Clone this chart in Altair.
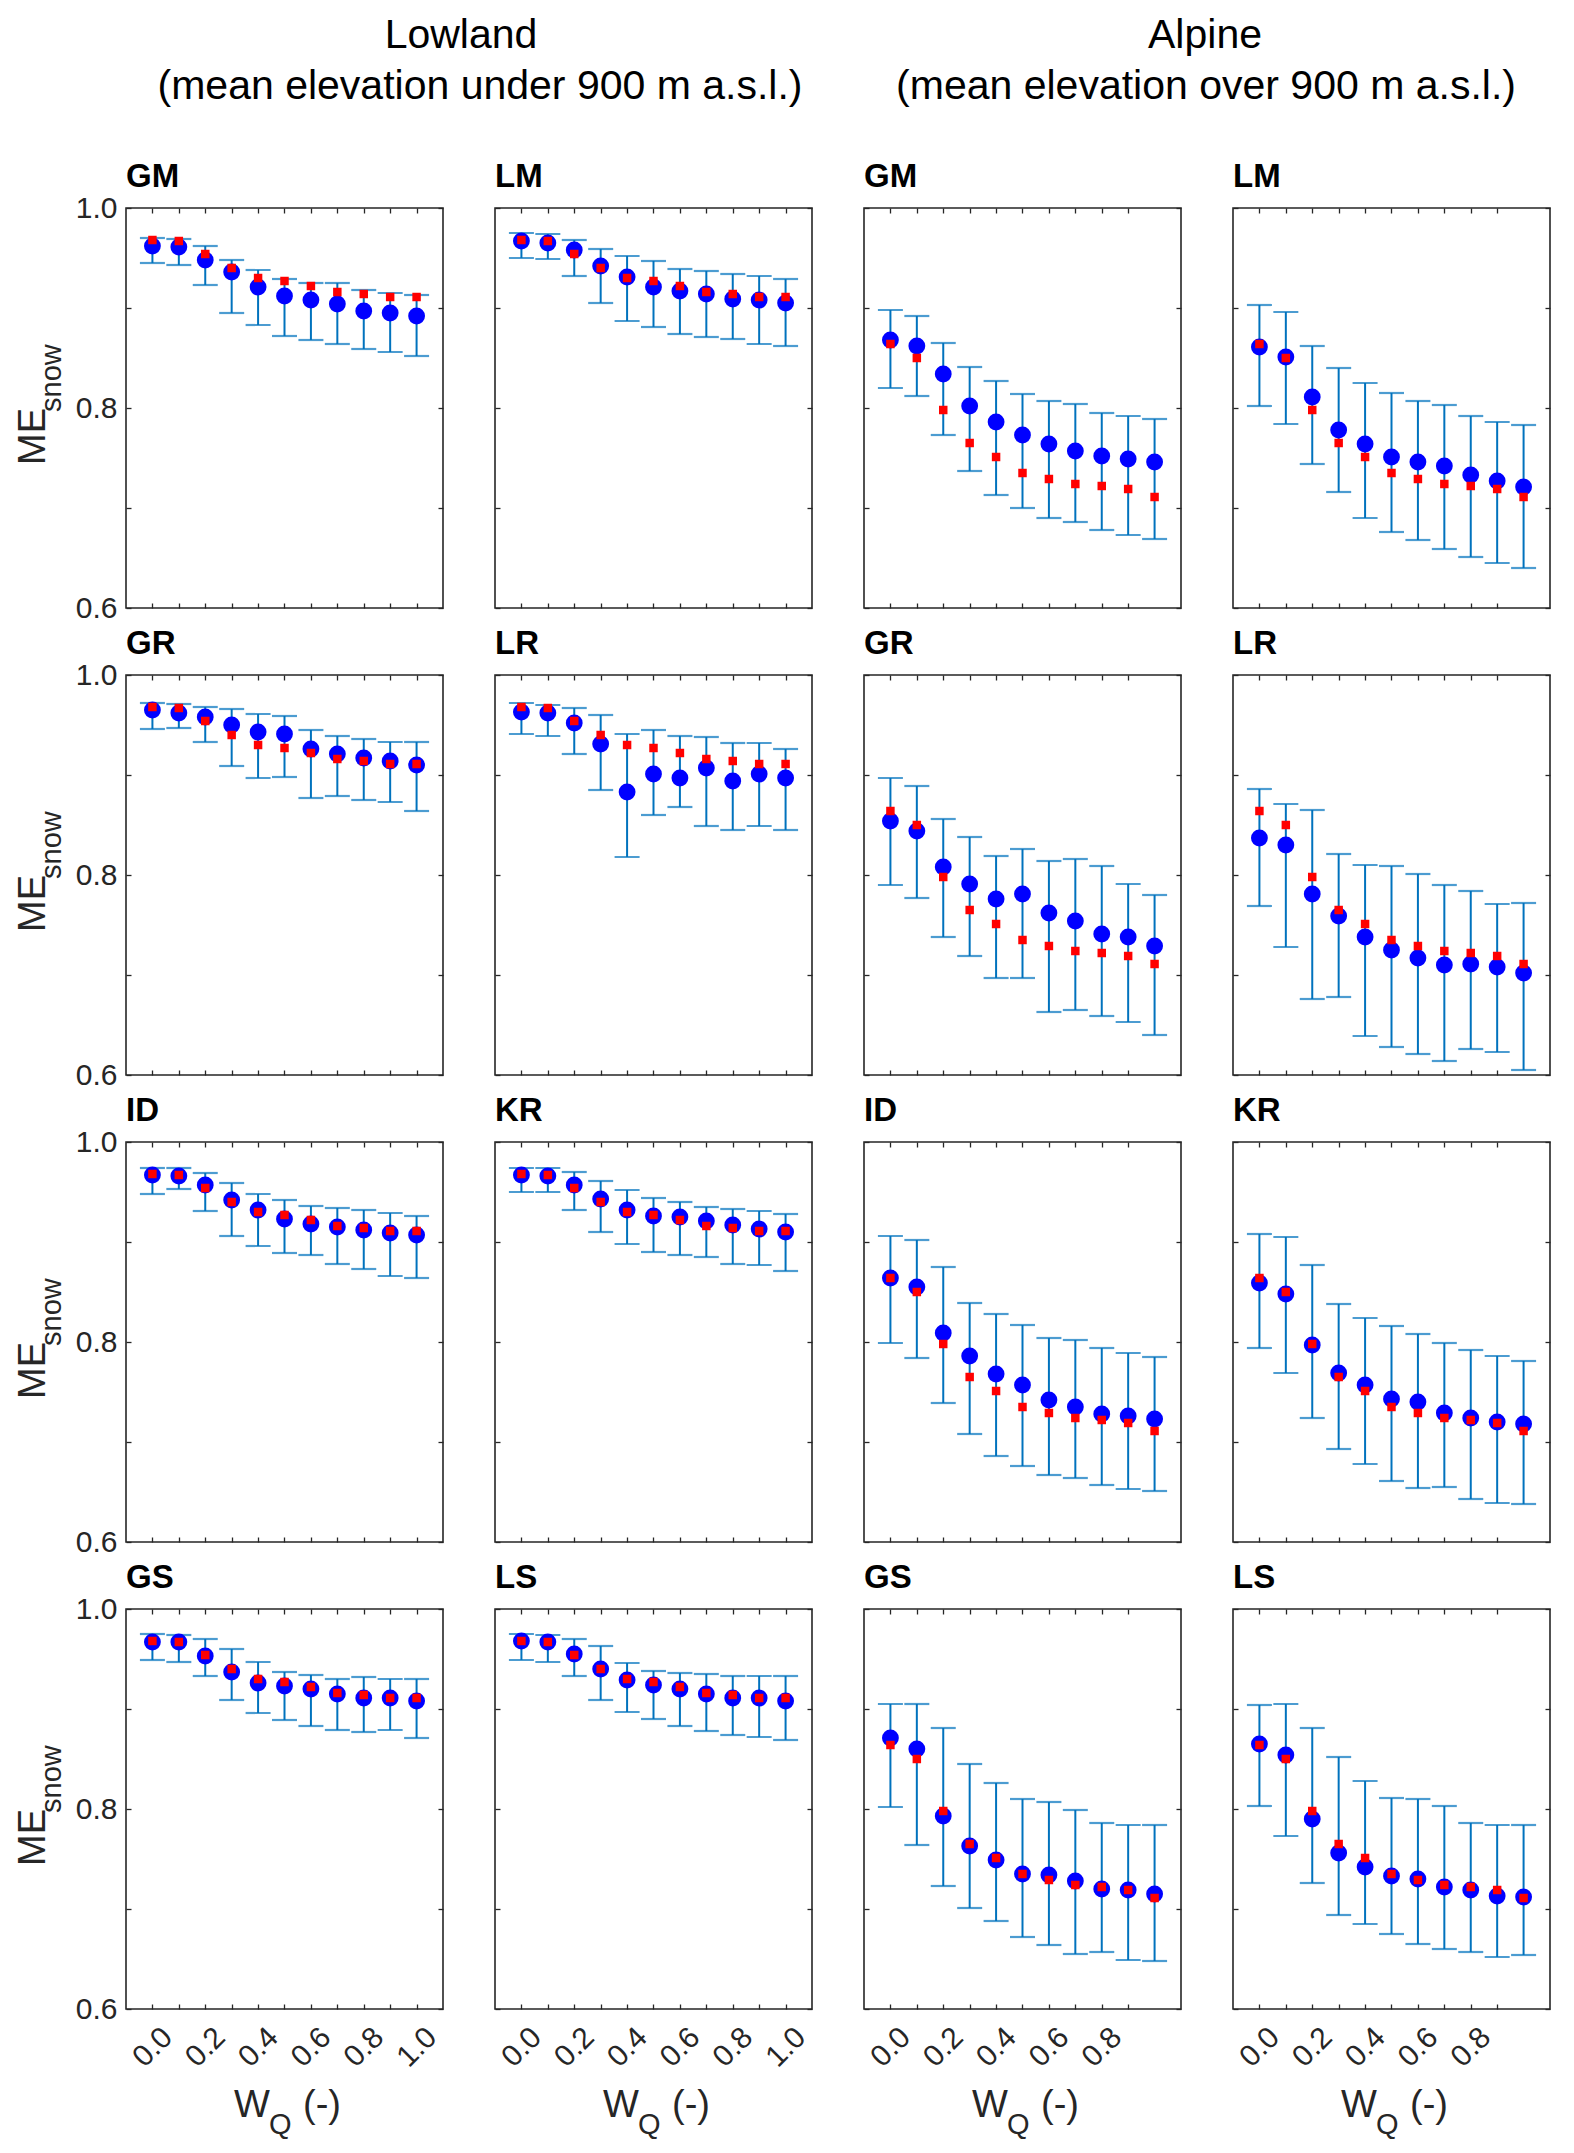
import pandas as pd
import altair as alt

FONT = "Liberation Sans"
TXT = "#262626"
BAR = "#0072BD"

# W_Q weights on the x axis
WQ = [0.0, 0.1, 0.2, 0.3, 0.4, 0.5, 0.6, 0.7, 0.8, 0.9, 1.0]
Y_TICKS = [0.6, 0.7, 0.8, 0.9, 1.0]
LOW_X_TICKS = [0.0, 0.1, 0.2, 0.3, 0.4, 0.5, 0.6, 0.7, 0.8, 0.9, 1.0]
ALP_X_TICKS = [0.0, 0.1, 0.2, 0.3, 0.4, 0.5, 0.6, 0.7, 0.8, 0.9]

# red squares (same reference in every panel of a region)
LOW_REF = [0.968, 0.967, 0.954, 0.940, 0.930, 0.927, 0.922, 0.916, 0.914, 0.911, 0.911]
ALP_REF = [0.864, 0.850, 0.798, 0.765, 0.751, 0.735, 0.729, 0.724, 0.722, 0.719, 0.711]

# Lowland: mean (blue dots), upper and lower error bar ends
LOW_GM_MEAN = [0.962, 0.961, 0.948, 0.936, 0.921, 0.912, 0.908, 0.904, 0.897, 0.895, 0.892]
LOW_GM_HI = [0.970, 0.969, 0.962, 0.948, 0.938, 0.929, 0.925, 0.925, 0.918, 0.915, 0.913]
LOW_GM_LO = [0.945, 0.943, 0.923, 0.895, 0.883, 0.872, 0.868, 0.864, 0.859, 0.856, 0.852]

LOW_LM_MEAN = [0.967, 0.965, 0.958, 0.942, 0.931, 0.921, 0.917, 0.914, 0.909, 0.908, 0.905]
LOW_LM_HI = [0.975, 0.974, 0.968, 0.959, 0.952, 0.947, 0.939, 0.937, 0.934, 0.932, 0.929]
LOW_LM_LO = [0.950, 0.949, 0.932, 0.905, 0.887, 0.881, 0.874, 0.871, 0.869, 0.864, 0.862]

LOW_GR_MEAN = [0.965, 0.962, 0.958, 0.950, 0.943, 0.941, 0.926, 0.921, 0.917, 0.914, 0.910]
LOW_GR_HI = [0.972, 0.971, 0.968, 0.966, 0.961, 0.959, 0.945, 0.939, 0.936, 0.933, 0.933]
LOW_GR_LO = [0.946, 0.947, 0.933, 0.909, 0.897, 0.898, 0.877, 0.879, 0.875, 0.873, 0.864]

LOW_LR_MEAN = [0.963, 0.962, 0.952, 0.931, 0.883, 0.901, 0.897, 0.907, 0.894, 0.901, 0.897]
LOW_LR_HI = [0.972, 0.970, 0.967, 0.960, 0.941, 0.945, 0.939, 0.938, 0.932, 0.932, 0.926]
LOW_LR_LO = [0.941, 0.939, 0.921, 0.885, 0.818, 0.860, 0.868, 0.849, 0.845, 0.849, 0.845]

LOW_ID_MEAN = [0.967, 0.966, 0.957, 0.942, 0.932, 0.923, 0.918, 0.915, 0.912, 0.909, 0.907]
LOW_ID_HI = [0.974, 0.974, 0.969, 0.959, 0.948, 0.942, 0.936, 0.934, 0.932, 0.929, 0.926]
LOW_ID_LO = [0.948, 0.953, 0.931, 0.906, 0.896, 0.889, 0.887, 0.878, 0.873, 0.866, 0.864]

LOW_KR_MEAN = [0.967, 0.966, 0.957, 0.943, 0.932, 0.926, 0.925, 0.921, 0.917, 0.913, 0.910]
LOW_KR_HI = [0.974, 0.974, 0.970, 0.961, 0.952, 0.944, 0.940, 0.935, 0.933, 0.931, 0.928]
LOW_KR_LO = [0.950, 0.950, 0.932, 0.910, 0.898, 0.890, 0.887, 0.885, 0.878, 0.877, 0.871]

LOW_GS_MEAN = [0.967, 0.967, 0.953, 0.937, 0.926, 0.923, 0.920, 0.915, 0.911, 0.911, 0.908]
LOW_GS_HI = [0.975, 0.974, 0.970, 0.960, 0.947, 0.937, 0.934, 0.930, 0.932, 0.930, 0.930]
LOW_GS_LO = [0.949, 0.947, 0.933, 0.909, 0.896, 0.889, 0.883, 0.879, 0.877, 0.879, 0.871]

LOW_LS_MEAN = [0.968, 0.967, 0.955, 0.940, 0.929, 0.924, 0.920, 0.915, 0.911, 0.911, 0.908]
LOW_LS_HI = [0.975, 0.974, 0.970, 0.963, 0.946, 0.938, 0.936, 0.935, 0.933, 0.933, 0.933]
LOW_LS_LO = [0.949, 0.947, 0.933, 0.909, 0.897, 0.890, 0.883, 0.878, 0.874, 0.872, 0.869]

# Alpine
ALP_GM_MEAN = [0.868, 0.862, 0.834, 0.802, 0.786, 0.773, 0.764, 0.757, 0.752, 0.749, 0.746]
ALP_GM_HI = [0.898, 0.892, 0.865, 0.841, 0.827, 0.814, 0.807, 0.804, 0.795, 0.792, 0.789]
ALP_GM_LO = [0.820, 0.812, 0.773, 0.737, 0.713, 0.700, 0.690, 0.686, 0.678, 0.673, 0.669]

ALP_LM_MEAN = [0.861, 0.851, 0.811, 0.778, 0.764, 0.751, 0.746, 0.742, 0.733, 0.727, 0.721]
ALP_LM_HI = [0.903, 0.896, 0.862, 0.840, 0.825, 0.815, 0.807, 0.803, 0.792, 0.786, 0.783]
ALP_LM_LO = [0.802, 0.784, 0.744, 0.716, 0.690, 0.676, 0.668, 0.659, 0.651, 0.645, 0.640]

ALP_GR_MEAN = [0.854, 0.844, 0.808, 0.791, 0.776, 0.781, 0.762, 0.754, 0.741, 0.738, 0.729]
ALP_GR_HI = [0.897, 0.889, 0.856, 0.838, 0.819, 0.826, 0.814, 0.816, 0.809, 0.791, 0.780]
ALP_GR_LO = [0.790, 0.777, 0.738, 0.719, 0.697, 0.697, 0.663, 0.665, 0.659, 0.653, 0.640]

ALP_LR_MEAN = [0.837, 0.830, 0.781, 0.759, 0.738, 0.725, 0.717, 0.710, 0.711, 0.708, 0.702]
ALP_LR_HI = [0.886, 0.871, 0.865, 0.821, 0.810, 0.809, 0.801, 0.790, 0.784, 0.771, 0.772]
ALP_LR_LO = [0.769, 0.728, 0.676, 0.678, 0.639, 0.628, 0.621, 0.614, 0.626, 0.623, 0.605]

ALP_ID_MEAN = [0.864, 0.855, 0.809, 0.786, 0.768, 0.757, 0.742, 0.735, 0.728, 0.726, 0.723]
ALP_ID_HI = [0.906, 0.902, 0.875, 0.839, 0.828, 0.817, 0.804, 0.802, 0.794, 0.789, 0.785]
ALP_ID_LO = [0.799, 0.784, 0.739, 0.708, 0.686, 0.676, 0.667, 0.664, 0.657, 0.653, 0.651]

ALP_KR_MEAN = [0.859, 0.848, 0.797, 0.769, 0.757, 0.743, 0.740, 0.729, 0.724, 0.720, 0.718]
ALP_KR_HI = [0.908, 0.905, 0.877, 0.838, 0.824, 0.816, 0.808, 0.799, 0.792, 0.786, 0.781]
ALP_KR_LO = [0.794, 0.769, 0.724, 0.693, 0.678, 0.661, 0.654, 0.655, 0.643, 0.639, 0.638]

ALP_GS_MEAN = [0.871, 0.860, 0.793, 0.763, 0.749, 0.735, 0.734, 0.728, 0.720, 0.719, 0.715]
ALP_GS_HI = [0.905, 0.905, 0.881, 0.845, 0.826, 0.810, 0.807, 0.799, 0.786, 0.784, 0.784]
ALP_GS_LO = [0.802, 0.764, 0.723, 0.701, 0.688, 0.672, 0.664, 0.655, 0.657, 0.649, 0.648]

ALP_LS_MEAN = [0.865, 0.854, 0.790, 0.756, 0.742, 0.733, 0.730, 0.722, 0.719, 0.713, 0.712]
ALP_LS_HI = [0.904, 0.905, 0.881, 0.852, 0.828, 0.811, 0.810, 0.803, 0.786, 0.784, 0.784]
ALP_LS_LO = [0.803, 0.773, 0.726, 0.694, 0.685, 0.675, 0.665, 0.660, 0.657, 0.652, 0.654]

W, H = 317, 400
LABEL_EXPR = "round(datum.value * 10) % 2 == 0 ? format(datum.value, '.1f') : ''"


def tick_axis(orient, values, labels=False):
    # ticks drawn inward: axis pulled inside by its tick length
    return alt.Axis(
        orient=orient, values=values, labels=labels, labelExpr=LABEL_EXPR,
        labelFontSize=30, labelFont=FONT, labelColor=TXT,
        labelOverlap=False, labelFlush=False,
        tickSize=5, offset=-5, tickColor=TXT, tickWidth=1.3,
        domain=False, grid=False, title=None,
    )


def label(text, x, y, size, angle=0, bold=False, align="left", color=TXT):
    mark = dict(text=text, align=align, baseline="alphabetic", fontSize=size,
                font=FONT, color=color)
    if angle:
        mark["angle"] = angle
    if bold:
        mark["fontWeight"] = "bold"
    return alt.Chart(pd.DataFrame({"k": [0]})).mark_text(**mark).encode(
        x=alt.value(x), y=alt.value(y)
    )


def panel(name, mean, hi, lo, ref, x_ticks, first_col, bottom_row, header=None):
    df = pd.DataFrame({"w": WQ, "mean": mean, "hi": hi, "lo": lo, "ref": ref})
    xs = alt.Scale(domain=[-0.1, 1.1], nice=False, zero=False)
    ys = alt.Scale(domain=[0.6, 1.0], nice=False, zero=False)

    x_axis = tick_axis("bottom", x_ticks, bottom_row)
    if bottom_row:
        x_axis.labelAngle = 315
        x_axis.labelAlign = "center"
        x_axis.labelBaseline = "middle"
        x_axis.labelPadding = 38
    y_axis = tick_axis("left", Y_TICKS, first_col)
    if first_col:
        y_axis.labelPadding = 9
        y_axis.labelBaseline = "middle"

    base = alt.Chart(df)
    x = alt.X("w:Q", scale=xs, axis=None)

    rules = base.mark_rule(color=BAR, strokeWidth=2).encode(
        x=alt.X("w:Q", scale=xs, axis=x_axis),
        y=alt.Y("lo:Q", scale=ys, axis=y_axis),
        y2="hi:Q",
    )
    cap_hi = base.mark_tick(orient="horizontal", size=25, thickness=2.2, color=BAR).encode(
        x=x, y=alt.Y("hi:Q", scale=ys, axis=None)
    )
    cap_lo = base.mark_tick(orient="horizontal", size=25, thickness=2.2, color=BAR).encode(
        x=x, y=alt.Y("lo:Q", scale=ys, axis=None)
    )
    dots = base.mark_circle(size=283, color="#0000FF", opacity=1).encode(
        x=x, y=alt.Y("mean:Q", scale=ys, axis=None)
    )
    refs = base.mark_square(size=72, color="#FF0000", opacity=1).encode(
        x=x, y=alt.Y("ref:Q", scale=ys, axis=None)
    )
    mirror = base.mark_point(opacity=0).encode(
        x=alt.X("w:Q", scale=xs, axis=tick_axis("top", x_ticks)),
        y=alt.Y("mean:Q", scale=ys, axis=tick_axis("right", Y_TICKS)),
    )
    layers = [rules, cap_hi, cap_lo, dots, refs, mirror,
              label(name, 0, -21, 33, bold=True, color="black")]

    if header:
        (t1, x1), (t2, x2) = header
        layers.append(label(t1, x1, -160, 41, align="center", color="black"))
        layers.append(label(t2, x2, -109, 41, align="center", color="black"))
    if first_col:
        layers.append(label("ME", -81, 257, 38, angle=270))
        layers.append(label("snow", -65, 204, 29, angle=270))
    if bottom_row:
        layers.append(label("W", 108, 508, 38))
        layers.append(label("Q", 143, 525, 29))
        layers.append(label("(-)", 177, 508, 38))

    return (
        alt.layer(*layers)
        .resolve_axis(x="independent", y="independent")
        .properties(width=W, height=H)
    )


LOW_PANELS = [
    [("GM", LOW_GM_MEAN, LOW_GM_HI, LOW_GM_LO), ("LM", LOW_LM_MEAN, LOW_LM_HI, LOW_LM_LO)],
    [("GR", LOW_GR_MEAN, LOW_GR_HI, LOW_GR_LO), ("LR", LOW_LR_MEAN, LOW_LR_HI, LOW_LR_LO)],
    [("ID", LOW_ID_MEAN, LOW_ID_HI, LOW_ID_LO), ("KR", LOW_KR_MEAN, LOW_KR_HI, LOW_KR_LO)],
    [("GS", LOW_GS_MEAN, LOW_GS_HI, LOW_GS_LO), ("LS", LOW_LS_MEAN, LOW_LS_HI, LOW_LS_LO)],
]
ALP_PANELS = [
    [("GM", ALP_GM_MEAN, ALP_GM_HI, ALP_GM_LO), ("LM", ALP_LM_MEAN, ALP_LM_HI, ALP_LM_LO)],
    [("GR", ALP_GR_MEAN, ALP_GR_HI, ALP_GR_LO), ("LR", ALP_LR_MEAN, ALP_LR_HI, ALP_LR_LO)],
    [("ID", ALP_ID_MEAN, ALP_ID_HI, ALP_ID_LO), ("KR", ALP_KR_MEAN, ALP_KR_HI, ALP_KR_LO)],
    [("GS", ALP_GS_MEAN, ALP_GS_HI, ALP_GS_LO), ("LS", ALP_LS_MEAN, ALP_LS_HI, ALP_LS_LO)],
]
LOW_HEAD = [("Lowland", 335), ("(mean elevation under 900 m a.s.l.)", 354)]
ALP_HEAD = [("Alpine", 341), ("(mean elevation over 900 m a.s.l.)", 342)]

rows = []
for r in range(4):
    cells = []
    for c, (name, mean, hi, lo) in enumerate(LOW_PANELS[r]):
        cells.append(panel(name, mean, hi, lo, LOW_REF, LOW_X_TICKS, c == 0, r == 3,
                           LOW_HEAD if (r == 0 and c == 0) else None))
    for c, (name, mean, hi, lo) in enumerate(ALP_PANELS[r]):
        cells.append(panel(name, mean, hi, lo, ALP_REF, ALP_X_TICKS, False, r == 3,
                           ALP_HEAD if (r == 0 and c == 0) else None))
    rows.append(alt.hconcat(*cells, spacing=52, bounds="flush"))

chart = (
    alt.vconcat(*rows, spacing=3)
    .properties(padding={"left": 6, "top": 6, "right": 5, "bottom": 5})
    .configure(background="white")
    .configure_view(stroke=TXT, strokeWidth=1.6)
)

chart.save("out.html", embed_options={"renderer": "svg", "actions": False})
